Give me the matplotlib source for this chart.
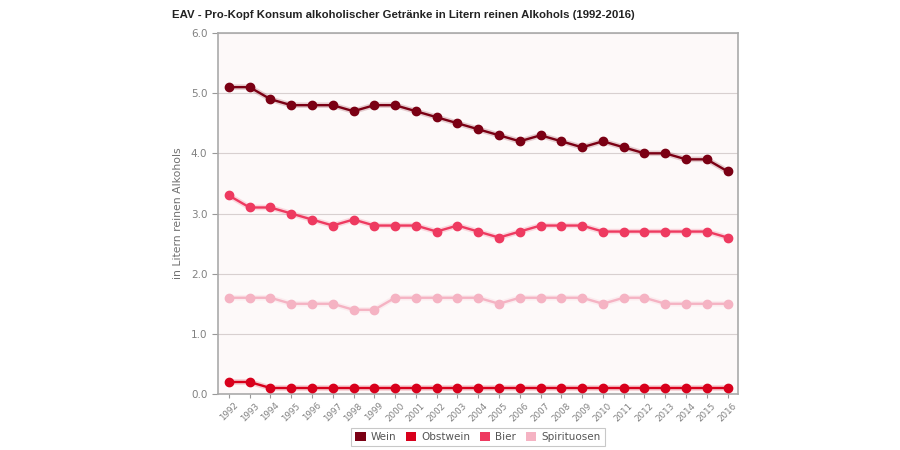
import matplotlib
matplotlib.use("Agg")
import matplotlib.pyplot as plt
from matplotlib.patches import Patch

# Pro-Kopf Konsum in Litern reinen Alkohols
jahre = list(range(1992, 2017))
wein = [5.1, 5.1, 4.9, 4.8, 4.8, 4.8, 4.7, 4.8, 4.8, 4.7, 4.6, 4.5, 4.4,
        4.3, 4.2, 4.3, 4.2, 4.1, 4.2, 4.1, 4.0, 4.0, 3.9, 3.9, 3.7]
obstwein = [0.2, 0.2, 0.1, 0.1, 0.1, 0.1, 0.1, 0.1, 0.1, 0.1, 0.1, 0.1, 0.1,
            0.1, 0.1, 0.1, 0.1, 0.1, 0.1, 0.1, 0.1, 0.1, 0.1, 0.1, 0.1]
bier = [3.3, 3.1, 3.1, 3.0, 2.9, 2.8, 2.9, 2.8, 2.8, 2.8, 2.7, 2.8, 2.7,
        2.6, 2.7, 2.8, 2.8, 2.8, 2.7, 2.7, 2.7, 2.7, 2.7, 2.7, 2.6]
spirituosen = [1.6, 1.6, 1.6, 1.5, 1.5, 1.5, 1.4, 1.4, 1.6, 1.6, 1.6, 1.6, 1.6,
               1.5, 1.6, 1.6, 1.6, 1.6, 1.5, 1.6, 1.6, 1.5, 1.5, 1.5, 1.5]

serien = [
    ("Wein", wein, "#7b0014"),
    ("Obstwein", obstwein, "#d8001c"),
    ("Bier", bier, "#ee3a60"),
    ("Spirituosen", spirituosen, "#f5b3c3"),
]

fig = plt.figure(figsize=(9, 4.5), dpi=100)
ax = fig.add_axes([0.242, 0.1244, 0.578, 0.8023])
ax.set_facecolor("#fdf9f9")

for name, werte, farbe in serien:
    # leichter Schatten unter der Linie
    ax.plot(jahre, werte, color=farbe, lw=4.0, alpha=0.18, zorder=2)
    ax.plot(jahre, werte, color=farbe, lw=1.7, marker="o", ms=6,
            markeredgecolor=farbe, zorder=3, label=name)

ax.set_xlim(1991.47, 2016.5)
ax.set_ylim(0, 6)
ax.set_yticks([0, 1, 2, 3, 4, 5, 6])
ax.set_yticklabels(["%.1f" % v for v in range(7)])
ax.set_xticks(jahre)
ax.set_xticklabels([str(j) for j in jahre], rotation=45, fontsize=6.3,
                   color="#808080")
ax.tick_params(axis="y", labelsize=7.5, colors="#808080", length=4,
               color="#999999")
ax.tick_params(axis="x", length=3, color="#999999", pad=2)
ax.grid(axis="y", color="#d8d0d0", lw=0.8)
ax.set_axisbelow(True)
for side in ["left", "bottom", "right", "top"]:
    ax.spines[side].set_color("#aaaaaa")
    ax.spines[side].set_linewidth(1.2)

ax.set_ylabel("in Litern reinen Alkohols", fontsize=7.8, color="#707070",
              labelpad=6)

fig.text(0.191, 0.967, "EAV - Pro-Kopf Konsum alkoholischer Getränke in Litern "
         "reinen Alkohols (1992-2016)", fontsize=8.2, fontweight="bold",
         family="Liberation Sans", color="#222222", va="center")

handles = [Patch(facecolor=f, edgecolor="none", label=n) for n, _, f in serien]
leg = fig.legend(handles=handles, loc="center", bbox_to_anchor=(0.531, 0.029),
                 ncol=4, fontsize=7.5, frameon=True, handlelength=1.0,
                 handleheight=1.0, handletextpad=0.5, columnspacing=0.9,
                 borderpad=0.4, fancybox=False)
leg.get_frame().set_edgecolor("#bbbbbb")
leg.get_frame().set_linewidth(0.8)
for t in leg.get_texts():
    t.set_color("#555555")

fig.savefig("out.png", dpi=100)
